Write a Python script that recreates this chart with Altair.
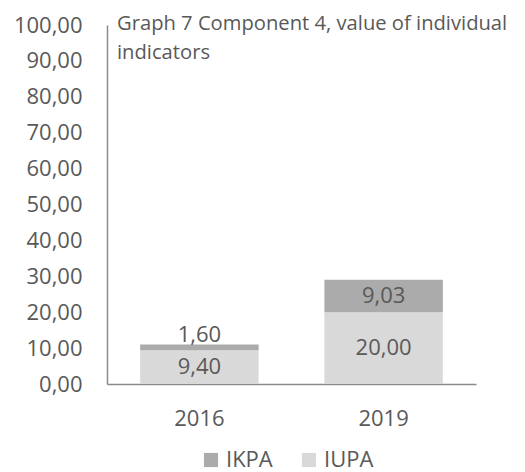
import altair as alt
import pandas as pd

years = ["2016", "2019", "2016", "2019"]
series = ["IUPA", "IUPA", "IKPA", "IKPA"]
values = [9.40, 20.00, 1.60, 9.03]
order = [0, 0, 1, 1]

df = pd.DataFrame({"year": years, "series": series, "value": values, "ord": order})

FONT = "Open Sans"
TXT = "#595959"
FS = 22

Y_AXIS = alt.Axis(values=list(range(0, 101, 10)), format=".2f", grid=False,
                  ticks=False, labelPadding=25, labelOverlap=False,
                  domainColor="#8c8c8c", title=None,
                  domainWidth=1.5, labelFont=FONT, labelFontSize=FS,
                  labelColor=TXT)
Y_SCALE = alt.Scale(domain=[0, 100])

base = alt.Chart(df).encode(
    x=alt.X("year:N", title=None,
            scale=alt.Scale(paddingInner=0.357, paddingOuter=0.18),
            axis=alt.Axis(labelAngle=0, ticks=False, labelPadding=24,
                          domainColor="#8c8c8c", domainWidth=1.5,
                          labelFont=FONT, labelFontSize=FS, labelColor=TXT)),
)

bars = base.mark_bar().encode(
    y=alt.Y("value:Q", stack="zero", title=None, scale=Y_SCALE, axis=Y_AXIS),
    color=alt.Color("series:N",
                    scale=alt.Scale(domain=["IKPA", "IUPA"], range=["#ababab", "#d9d9d9"]),
                    legend=alt.Legend(title=None, orient="none", direction="horizontal",
                                      legendX=93, legendY=424, padding=0,
                                      symbolType="square", symbolSize=200,
                                      symbolStrokeWidth=0, labelFont=FONT,
                                      labelFontSize=FS, labelColor=TXT,
                                      columnPadding=25, labelOffset=4)),
    order=alt.Order("ord:Q"),
)

mid = base.transform_stack(
    stack="value", groupby=["year"], as_=["v0", "v1"], sort=[alt.SortField("ord")]
).transform_calculate(
    mid="(datum.v0 + datum.v1) / 2"
).transform_filter("datum.value > 5").mark_text(
    font=FONT, fontSize=FS, color=TXT, baseline="middle"
).encode(
    y=alt.Y("mid:Q", title=None, scale=Y_SCALE, axis=Y_AXIS),
    text=alt.Text("value:Q", format=".2f"),
)

top = base.transform_stack(
    stack="value", groupby=["year"], as_=["v0", "v1"], sort=[alt.SortField("ord")]
).transform_filter("datum.value <= 5").mark_text(
    font=FONT, fontSize=FS, color=TXT, baseline="alphabetic", dy=-3
).encode(
    y=alt.Y("v1:Q", title=None, scale=Y_SCALE, axis=Y_AXIS),
    text=alt.Text("value:Q", format=".2f"),
)

chart = alt.layer(bars, mid, top).properties(
    width=369, height=359,
    autosize=alt.AutoSizeParams(type="none"),
    padding={"left": 99, "top": 17, "right": 41, "bottom": 90},
    title=alt.TitleParams(
        text=["Graph 7 Component 4, value of individual", "indicators"],
        anchor="start", frame="group", orient="top", baseline="top",
        font=FONT, fontSize=20.2, fontWeight="normal", color=TXT,
        lineHeight=29, dx=10, offset=-10, dy=39,
    ),
).configure(
    locale={"number": {"decimal": ",", "thousands": ".", "grouping": [3], "currency": ["", " €"]}}
).configure_view(stroke=None)

chart.save("out.html", embed_options={"renderer": "svg", "actions": False})
